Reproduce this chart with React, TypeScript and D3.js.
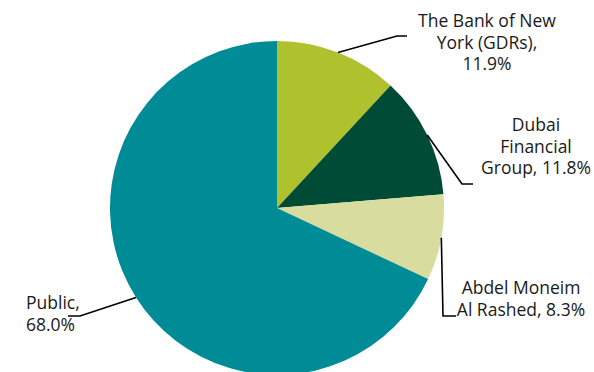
import React from "react";
import * as d3 from "d3";

const labels = ["The Bank of New York (GDRs)", "Dubai Financial Group", "Abdel Moneim Al Rashed", "Public"];
const values = [11.9, 11.8, 8.3, 68.0];
const colors = ["#AFC22D", "#004B35", "#D8DC9F", "#008C96"];
const labelLines = [
  ["The Bank of New", "York (GDRs),", "11.9%"],
  ["Dubai", "Financial", "Group, 11.8%"],
  ["Abdel Moneim", "Al Rashed, 8.3%"],
  ["Public,", "68.0%"],
];

const W = 594, H = 372;
const cx = 277, cy = 208, R = 167;

// layout of labels (text position, anchor, elbow and end of leader)
const labelLayout = [
  { x: 487, y: 27, anchor: "middle", elbow: [397, 36], end: [407, 36] },
  { x: 536, y: 131, anchor: "middle", elbow: [462, 184], end: [473, 184] },
  { x: 521, y: 294, anchor: "middle", elbow: [443, 316], end: [456, 316] },
  { x: 26, y: 309, anchor: "start", elbow: [80, 316], end: [68, 316] },
];

export default function App() {
  const pie = d3.pie<number>().sort(null).value((d) => d)(values);
  const arc = d3.arc<d3.PieArcDatum<number>>().innerRadius(0).outerRadius(R);
  return (
    <svg width={W} height={H} style={{ position: "absolute", left: 0, top: 0, background: "#fff" }}
      fontFamily="'Open Sans', sans-serif">
      <g transform={`translate(${cx},${cy})`}>
        {pie.map((p, i) => (
          <path key={labels[i]} d={arc(p) || ""} fill={colors[i]} />
        ))}
      </g>
      {pie.map((p, i) => {
        const a = (p.startAngle + p.endAngle) / 2;
        const sx = cx + R * Math.sin(a);
        const sy = cy - R * Math.cos(a);
        const L = labelLayout[i];
        return (
          <polyline key={"l" + i}
            points={`${sx},${sy} ${L.elbow[0]},${L.elbow[1]} ${L.end[0]},${L.end[1]}`}
            fill="none" stroke="#000" strokeWidth={1.6} />
        );
      })}
      {labelLayout.map((L, i) => (
        <text key={"t" + i} x={L.x} y={L.y} textAnchor={L.anchor} fontSize={17.5} fill="#1a1a1a">
          {labelLines[i].map((s, j) => (
            <tspan key={j} x={L.x} dy={j === 0 ? 0 : 21.5}>{s}</tspan>
          ))}
        </text>
      ))}
    </svg>
  );
}
